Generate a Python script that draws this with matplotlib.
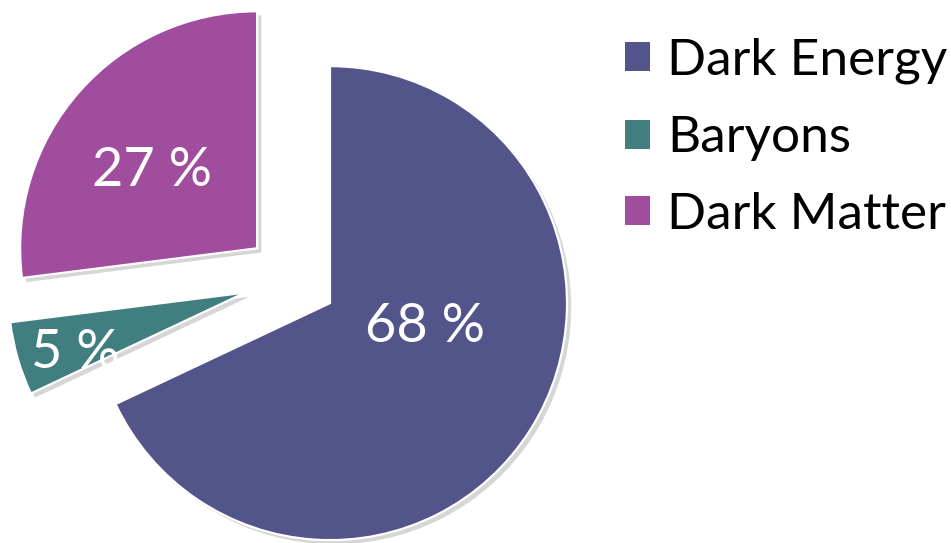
import matplotlib
matplotlib.use("Agg")
import matplotlib.pyplot as plt
import matplotlib.patheffects as pe

# Composition of the universe
categories = ["Dark Energy", "Baryons", "Dark Matter"]
shares = [68, 5, 27]
colors = ["#52548A", "#417E80", "#A04D9E"]
explode_frac = [0.19, 0.205, 0.196]

# label anchor points (pixel space, y measured from top)
label_xy = [(425, 326), (75, 352), (152, 170)]

W, H = 951, 543
fig = plt.figure(figsize=(W / 100, H / 100), dpi=100)
ax = fig.add_axes([0, 0, 1, 1])

font = "Lato"
center = (292, H - 279)
radius = 237

wedges, _ = ax.pie(
    shares,
    colors=colors,
    explode=[f * radius for f in explode_frac],
    startangle=90,
    counterclock=False,
    center=center,
    radius=radius,
    frame=True,
    wedgeprops=dict(edgecolor="white", linewidth=1.6),
)
ax.set_xlim(0, W)
ax.set_ylim(0, H)
ax.set_aspect("equal")
ax.axis("off")

for w in wedges:
    w.set_path_effects([
        pe.SimplePatchShadow(offset=(3, -3), shadow_rgbFace="#999999", alpha=0.4),
        pe.Normal(),
    ])

for val, (x, y) in zip(shares, label_xy):
    ax.text(x, H - y, f"{val} %", color="white", fontsize=39, family=font,
            ha="center", va="center")

leg = ax.legend(
    wedges, categories,
    loc="upper left",
    bbox_to_anchor=(625 / W, 1 - 38 / H),
    frameon=False,
    prop=dict(family=font, size=37),
    handlelength=0.49,
    handleheight=0.49,
    handletextpad=0.33,
    labelspacing=0.6,
    borderaxespad=0,
    borderpad=0,
)
for h in leg.legend_handles:
    h.set_path_effects([])
    h.set_edgecolor("none")

fig.savefig("out.png", dpi=100)
